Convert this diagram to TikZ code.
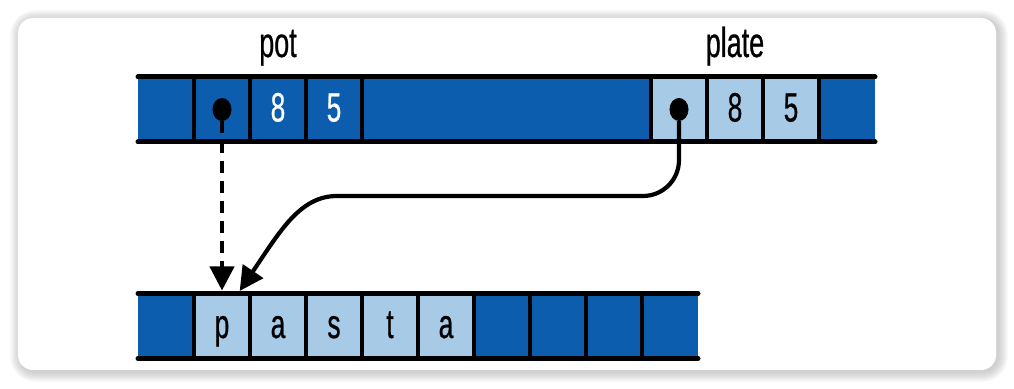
\documentclass[tikz,border=0pt]{standalone}
\usepackage{fontspec}
\setmainfont{Liberation Sans}[FakeStretch=0.64,FakeBold=0.6]
\usetikzlibrary{arrows.meta}
\usetikzlibrary{shapes.geometric,calc,positioning}

\definecolor{darkcell}{HTML}{0D5DAE}
\definecolor{lightcell}{HTML}{A7CAE6}
\definecolor{framegray}{HTML}{000000}

\tikzset{
  cell/.style={rectangle,minimum width=56pt,minimum height=65pt,inner sep=0pt,outer sep=0pt,
    text height=24pt,text depth=0pt,font=\fontsize{41}{46}\selectfont},
  dark/.style={cell,fill=darkcell,text=white},
  light/.style={cell,fill=lightcell,text=black},
  rail/.style={line width=5pt,line cap=round},
  divider/.style={line width=3.5pt},
  dot/.style={ellipse,fill=black,minimum width=19pt,minimum height=23pt,inner sep=0pt},
  varname/.style={anchor=base,font=\fontsize{42}{46}\selectfont},
  ptr/.style={line width=4.2pt,-{Triangle[length=24pt,width=24pt]}},
}

\begin{document}
\begin{tikzpicture}[x=1pt,y=1pt]
      \useasboundingbox (0,0) rectangle (1014,388);

      % Cadre
      \foreach \i in {1,...,10}
        \fill[framegray,opacity=0.018,rounded corners={15+\i}]
          ({18-\i+2},{18-\i-2}) rectangle ({996+\i+2},{370+\i-2});
      \fill[white,rounded corners=15] (18,18) rectangle (996,370);

      % Pile (pot, plate)
      \node[dark] (s1) at (166,278.5) {};
      \node[dark] (s2) at (222,278.5) {};
      \node[dark] (s3) at (278,278.5) {8};
      \node[dark] (s4) at (334,278.5) {5};
      \node[dark,minimum width=289pt] (s5) at (506.5,278.5) {};
      \node[light] (s6) at (679,278.5) {};
      \node[light] (s7) at (735,278.5) {8};
      \node[light] (s8) at (791,278.5) {5};
      \node[dark] (s9) at (847,278.5) {};
      \foreach \c in {s1,s2,s3,s4,s5,s6,s7,s8}
        \draw[divider] (\c.north east) -- (\c.south east);
      \draw[rail] (s1.north west) -- (s9.north east);
      \draw[rail] (s1.south west) -- (s9.south east);

      \node[varname] (pot) at (278,331) {pot};
      \node[varname] (plate) at (735,331) {plate};

      % Tas (pasta)
      \foreach \ch [count=\i] in {,p,a,s,t,a,,,,}{
        \ifnum\i>1 \ifnum\i<7
          \node[light] (h\i) at ({138+56*\i-28},62) {\ch};
        \else
          \node[dark] (h\i) at ({138+56*\i-28},62) {};
        \fi \else
          \node[dark] (h\i) at ({138+56*\i-28},62) {};
        \fi
      }
      \foreach \i in {1,...,9}
        \draw[divider] (h\i.north east) -- (h\i.south east);
      \draw[rail] (h1.north west) -- (h10.north east);
      \draw[rail] (h1.south west) -- (h10.south east);

      % Pointeurs
      \node[dot] (potdot) at (s2.center) {};
      \node[dot] (platedot) at (s6.center) {};
      \draw[ptr,dash pattern=on 12pt off 8pt,shorten >=3pt] (potdot.south) -- (h2.north);
      \draw[ptr,shorten >=3pt]
        (platedot.south) -- (679,228) to[out=-90,in=0] (643,192) -- (337,192)
        .. controls +(180:37) and +(56:75) .. ([xshift=16pt]h2.north);
    \end{tikzpicture}
\end{document}
